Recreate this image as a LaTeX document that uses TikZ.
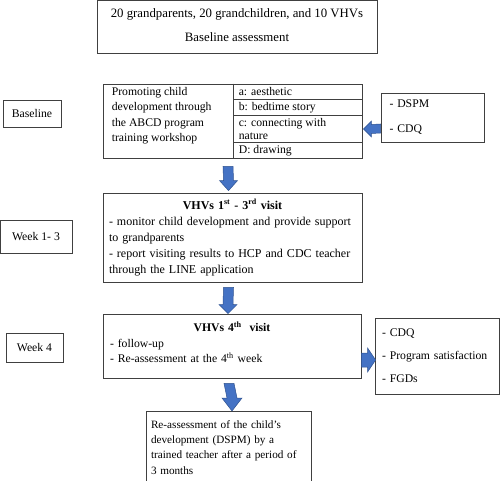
\documentclass[tikz,border=0pt]{standalone}
\usepackage{fontspec}
\setmainfont{Liberation Serif}
\usetikzlibrary{calc}
\definecolor{arrfill}{HTML}{4472C4}
\definecolor{arredge}{HTML}{2F528F}
\definecolor{boxline}{HTML}{404040}
\tikzset{
  box/.style={draw=boxline, line width=0.8pt, rectangle, inner sep=0pt,
    font=\fontsize{11.7}{15.5}\selectfont},
  txt/.style={inner sep=0pt, font=\fontsize{11.7}{15.5}\selectfont},
  barrow/.style={fill=arrfill, draw=arredge, line width=0.5pt, line join=miter},
}
\begin{document}
\begin{tikzpicture}[x=1pt,y=-1pt]
\useasboundingbox (0,0) rectangle (500,481);

% top box
\node[box, minimum width=280, minimum height=53] (top) at (237,26.5) {};
\node[txt, align=center, font=\fontsize{12.8}{24}\selectfont] (toptxt) at ($(top.center)+(0,-1.5)$)
  {20 grandparents, 20 grandchildren, and 10 VHVs\\Baseline assessment};

% left labels
\node[box, minimum width=58, minimum height=27] (bl) at (32,113.5) {Baseline};
\node[box, minimum width=72, minimum height=33] (w13) at (36,236.5) {Week 1- 3};
\node[box, minimum width=57, minimum height=29] (w4) at (34.5,347.5) {Week 4};

% ABCD table
\node[box, minimum width=259, minimum height=74] (abcd) at (232.5,121) {};
\draw[boxline, line width=0.8pt] ($(abcd.north west)+(131,0)$) -- ($(abcd.south west)+(131,0)$);
\draw[boxline, line width=0.8pt] ($(abcd.north west)+(131,16)$) -- ($(abcd.north east)+(0,16)$);
\draw[boxline, line width=0.8pt] ($(abcd.north west)+(131,32)$) -- ($(abcd.north east)+(0,32)$);
\draw[boxline, line width=0.8pt] ($(abcd.north west)+(131,59)$) -- ($(abcd.north east)+(0,59)$);
\node[txt, anchor=base west, align=left] (abcdl) at ($(abcd.north west)+(9,58)$)
  {Promoting child\\development through\\the ABCD program\\training workshop};
\node[txt, anchor=base west] (ca) at ($(abcd.north west)+(136,12)$) {a: aesthetic};
\node[txt, anchor=base west] (cb) at ($(abcd.north west)+(136,27)$) {b: bedtime story};
\node[txt, anchor=base west, align=left, font=\fontsize{11.7}{13.5}\selectfont] (cc) at ($(abcd.north west)+(136,56)$) {c: connecting with\\nature};
\node[txt, anchor=base west] (cd) at ($(abcd.north west)+(136,70)$) {D: drawing};

% DSPM / CDQ box
\node[box, minimum width=103, minimum height=49, text width=86, inner xsep=8.5,
  align=left, font=\fontsize{11.7}{25}\selectfont] (dq) at (432.5,117.5) {- DSPM\\- CDQ\\[-3pt]};

% VHVs 1st-3rd visit
\node[box, minimum width=259, minimum height=89, text width=247, inner xsep=6,
  align=left, font=\fontsize{12}{16}\selectfont] (v13) at (232.5,237.5)
  {{\centering\textbf{VHVs 1\textsuperscript{st} - 3\textsuperscript{rd} visit}\par}
   - monitor child development and provide support\\to grandparents\par
   - report visiting results to HCP and CDC teacher\\through the LINE application};

% VHVs 4th visit
\node[box, minimum width=258, minimum height=64, text width=244, inner xsep=7,
  align=left] (v4) at (232,346)
  {{\centering\textbf{VHVs 4\textsuperscript{th}\ \ visit}\par}
   - follow-up\par
   - Re-assessment at the 4\textsuperscript{th} week\par\nointerlineskip\vbox to 7pt{}};

% CDQ / satisfaction / FGDs box
\node[box, minimum width=120, minimum height=76, text width=110, inner xsep=7,
  align=left, font=\fontsize{11.7}{23}\selectfont] (res) at (437,356)
  {- CDQ\\- Program satisfaction\\- FGDs};

% final box
\node[box, minimum width=165, minimum height=72, text width=155, inner xsep=5,
  align=left, anchor=north, font=\fontsize{11.2}{15.2}\selectfont] (fin) at (228.5,411)
  {Re-assessment of the child's\\development (DSPM) by a\\trained teacher after a period of\\3 months};

% block arrows
% left arrow: dq -> abcd
\coordinate (l1s) at ($(dq.west)+(0,11)$);
\coordinate (l1e) at ($(abcd.east)+(1,8)$);
\path[barrow] ($(l1s)+(0,-4.5)$) -- ($(l1e)+(8,-4.5)$) -- ($(l1e)+(8,-8)$) -- (l1e)
  -- ($(l1e)+(8,8)$) -- ($(l1e)+(8,4.5)$) -- ($(l1s)+(0,4.5)$) -- cycle;

% down arrow abcd -> v13
\coordinate (d1s) at ($(abcd.south)+(-4.5,8)$);
\coordinate (d1e) at ($(v13.north)+(-4,-2)$);
\path[barrow] ($(d1s)+(-5,0)$) -- ($(d1e)+(-5,-10)$) -- ($(d1e)+(-9,-10)$) -- (d1e)
  -- ($(d1e)+(9,-10)$) -- ($(d1e)+(5,-10)$) -- ($(d1s)+(5,0)$) -- cycle;

% down arrow v13 -> v4
\coordinate (d2s) at ($(v13.south)+(-4,5)$);
\coordinate (d2e) at ($(v4.north)+(-4,0)$);
\path[barrow] ($(d2s)+(-5,0)$) -- ($(d2e)+(-5,-9)$) -- ($(d2e)+(-9,-9)$) -- (d2e)
  -- ($(d2e)+(9,-9)$) -- ($(d2e)+(5,-9)$) -- ($(d2s)+(5,0)$) -- cycle;

% down arrow v4 -> fin
\coordinate (d3s) at ($(v4.south)+(-3,5)$);
\coordinate (d3e) at ($(fin.north)+(3.5,0)$);
\path[barrow] ($(d3s)+(-5,0)$) -- ($(d3e)+(-5,-13)$) -- ($(d3e)+(-10,-13)$) -- (d3e)
  -- ($(d3e)+(10,-13)$) -- ($(d3e)+(5,-13)$) -- ($(d3s)+(5,0)$) -- cycle;

% right arrow v4 -> res
\coordinate (r1s) at ($(v4.east)+(0,14)$);
\coordinate (r1e) at ($(res.west)+(1,4)$);
\path[barrow] ($(r1s)+(0,-7)$) -- ($(r1e)+(-8,-7)$) -- ($(r1e)+(-8,-12)$) -- (r1e)
  -- ($(r1e)+(-8,12)$) -- ($(r1e)+(-8,7)$) -- ($(r1s)+(0,7)$) -- cycle;
\end{tikzpicture}
\end{document}
